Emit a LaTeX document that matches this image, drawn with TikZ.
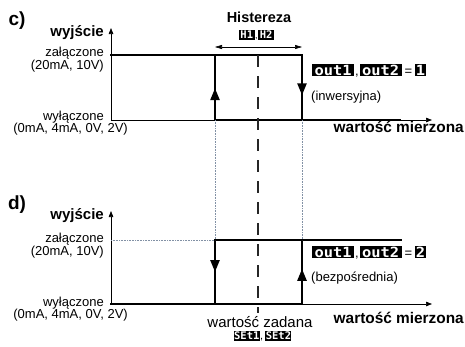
\documentclass[tikz,border=0pt]{standalone}
\usepackage{fontspec}
\setmainfont{Liberation Sans}
\newfontfamily\segfont[FakeStretch=1.1]{DejaVu Sans Mono}
\newfontfamily\segfontn{DejaVu Sans Mono}
\usepackage{xcolor}
\usetikzlibrary{arrows.meta,positioning,decorations.markings}
\definecolor{guidegray}{RGB}{130,145,165}

\begin{document}
\begin{tikzpicture}[x=1pt,y=-1pt,
  lbl/.style={font=\fontsize{13}{12}\selectfont, align=right, inner sep=0pt},
  ttl/.style={font=\fontsize{15}{16}\selectfont\bfseries, inner sep=0pt},
  panel/.style={font=\fontsize{19}{20}\selectfont\bfseries, inner sep=0pt},
  seg/.style={fill=black, text=white, inner sep=0pt, minimum width=42pt, minimum height=12.5pt,
    font=\segfont\bfseries\fontsize{14}{14}\selectfont},
  segs/.style={fill=black, text=white, inner sep=0pt, minimum width=26pt, minimum height=10pt,
    font=\segfontn\bfseries\fontsize{10.5}{10.5}\selectfont},
  plain/.style={inner sep=0pt, font=\fontsize{13}{13}\selectfont},
  axis/.style={line width=0.7pt, -{Triangle[length=6pt,width=4.5pt]}},
  sig/.style={line width=2.4pt, line cap=rect},
  guide/.style={densely dotted, line width=0.6pt, guidegray},
  setline/.style={line width=1.4pt, dash pattern=on 12pt off 9pt, black!85},
  midarr/.style={postaction={decorate}, decoration={markings,
    mark=at position #1 with {\arrow{Triangle[length=12pt,width=9pt]}}}}
]
\useasboundingbox (0,0) rectangle (465,346);

% ---- panel c) ----
\coordinate (c-o) at (111,120);
\coordinate (c-top) at (111,28);
\coordinate (c-end) at (432,120);
\coordinate (c-hl) at (111,55);
\coordinate (c-a) at (215,55);
\coordinate (c-b) at (302,55);
\coordinate (c-a0) at (215,120);
\coordinate (c-b0) at (302,120);
\coordinate (c-e) at (400,120);
\coordinate (c-m) at (258,55);

\draw[axis] (c-o) -- (c-top);
\draw[axis] (c-o) -- (c-end);
\draw[sig] (c-hl) -- (c-b);
\draw[sig] (c-a0) -- (c-e);
\draw[sig, midarr=0.49] (c-a0) -- (c-a);
\draw[sig, midarr=0.62] (c-b) -- (c-b0);

\node[panel] (c-lbl) at (17,21) {c)};
\node[ttl, anchor=east] (c-out) at (104,33) {wyjście};
\node[lbl, anchor=east] (c-on) at (104,60) {załączone\\(20mA, 10V)};
\node[lbl, anchor=east] (c-off) at (104,117) {wyłączone};
\node[lbl, anchor=east] (c-offv) at (128,129) {(0mA, 4mA, 0V, 2V)};
\node[ttl, font=\fontsize{15.4}{16}\selectfont\bfseries, anchor=east] (c-x) at (464,127) {wartość mierzona};

% histereza
\coordinate (h-l) at (215,47);
\coordinate (h-r) at (302,47);
\draw[line width=0.6pt, {Triangle[length=7pt,width=4pt]}-{Triangle[length=7pt,width=4pt]}] (h-l) -- (h-r);
\node[ttl, font=\fontsize{14.5}{15}\selectfont\bfseries] (hist) at (259,17) {Histereza};
\node[segs, minimum width=16pt, anchor=east] (h1) at (255,35) {H1};
\node[plain, anchor=base west, font=\fontsize{9}{9}\selectfont] (h-cm) at (h1.base east) {,};
\node[segs, minimum width=16pt, anchor=base west] (h2) at (h-cm.base east) {H2};

% out1,out2=1
\node[seg, anchor=west] (c-o1) at (312,70) {out1};
\node[plain, anchor=base west, inner xsep=0.5pt] (c-cm) at (c-o1.base east) {,};
\node[seg, anchor=base west] (c-o2) at (c-cm.base east) {out2};
\node[plain, anchor=base west, inner xsep=2.5pt] (c-eq) at (c-o2.base east) {=};
\node[seg, minimum width=11pt, anchor=base west] (c-n) at (c-eq.base east) {1};
\node[plain, anchor=west] (c-mode) at (311,97) {(inwersyjna)};

% ---- panel d) ----
\coordinate (d-o) at (111,304);
\coordinate (d-top) at (111,211);
\coordinate (d-end) at (432,304);
\coordinate (d-hl) at (111,240);
\coordinate (d-a) at (215,240);
\coordinate (d-b) at (302,240);
\coordinate (d-a0) at (215,304);
\coordinate (d-b0) at (302,304);
\coordinate (d-e) at (401,240);
\coordinate (d-m) at (258,313);

\draw[axis] (d-o) -- (d-top);
\draw[axis] (d-o) -- (d-end);
\draw[guide] (d-hl) -- (d-a);
\draw[sig] (d-a) -- (d-e);
\draw[sig] (d-o) -- (d-b0);
\draw[sig, midarr=0.5] (d-a) -- (d-a0);
\draw[sig, midarr=0.55] (d-b0) -- (d-b);

% guides between panels
\draw[guide] (c-a0) -- (d-a);
\draw[guide] (c-b0) -- (d-b);
\draw[setline] (c-m) -- (d-m);

\node[panel] (d-lbl) at (17,205) {d)};
\node[ttl, anchor=east] (d-out) at (104,216) {wyjście};
\node[lbl, anchor=east] (d-on) at (104,246) {załączone\\(20mA, 10V)};
\node[lbl, anchor=east] (d-off) at (104,303) {wyłączone};
\node[lbl, anchor=east] (d-offv) at (128,315) {(0mA, 4mA, 0V, 2V)};
\node[ttl, font=\fontsize{15.4}{16}\selectfont\bfseries, anchor=east] (d-x) at (464,318) {wartość mierzona};

% out1,out2=2
\node[seg, anchor=west] (d-o1) at (312,252) {out1};
\node[plain, anchor=base west, inner xsep=0.5pt] (d-cm) at (d-o1.base east) {,};
\node[seg, anchor=base west] (d-o2) at (d-cm.base east) {out2};
\node[plain, anchor=base west, inner xsep=2.5pt] (d-eq) at (d-o2.base east) {=};
\node[seg, minimum width=11pt, anchor=base west] (d-n) at (d-eq.base east) {2};
\node[plain, anchor=west] (d-mode) at (311,278) {(bezpośrednia)};

% wartosc zadana
\node[plain, font=\fontsize{15}{15}\selectfont] (set) at (260,322) {wartość zadana};
\node[segs, anchor=east] (s1) at (260,336) {SEt1};
\node[plain, anchor=base west, font=\fontsize{11}{11}\selectfont] (s-cm) at (s1.base east) {,\,};
\node[segs, anchor=base west] (s2) at (s-cm.base east) {SEt2};
\end{tikzpicture}
\end{document}
